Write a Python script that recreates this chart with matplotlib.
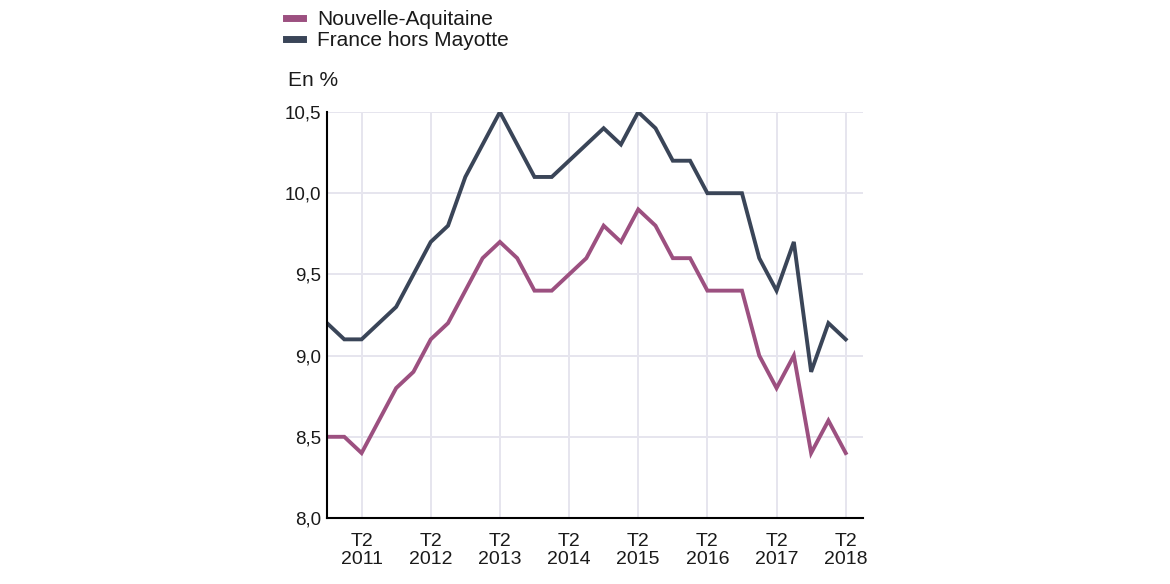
import numpy as np
import matplotlib.pyplot as plt

plt.rcParams['font.family'] = ['Liberation Sans', 'DejaVu Sans']

# Quarterly unemployment rate, T4 2010 -> T2 2018
quarters = ['T4 2010',
            'T1 2011', 'T2 2011', 'T3 2011', 'T4 2011',
            'T1 2012', 'T2 2012', 'T3 2012', 'T4 2012',
            'T1 2013', 'T2 2013', 'T3 2013', 'T4 2013',
            'T1 2014', 'T2 2014', 'T3 2014', 'T4 2014',
            'T1 2015', 'T2 2015', 'T3 2015', 'T4 2015',
            'T1 2016', 'T2 2016', 'T3 2016', 'T4 2016',
            'T1 2017', 'T2 2017', 'T3 2017', 'T4 2017',
            'T1 2018', 'T2 2018']
nouvelle_aquitaine = [8.5,
                      8.5, 8.4, 8.6, 8.8,
                      8.9, 9.1, 9.2, 9.4,
                      9.6, 9.7, 9.6, 9.4,
                      9.4, 9.5, 9.6, 9.8,
                      9.7, 9.9, 9.8, 9.6,
                      9.6, 9.4, 9.4, 9.4,
                      9.0, 8.8, 9.0, 8.4,
                      8.6, 8.4]
france = [9.2,
          9.1, 9.1, 9.2, 9.3,
          9.5, 9.7, 9.8, 10.1,
          10.3, 10.5, 10.3, 10.1,
          10.1, 10.2, 10.3, 10.4,
          10.3, 10.5, 10.4, 10.2,
          10.2, 10.0, 10.0, 10.0,
          9.6, 9.4, 9.7, 8.9,
          9.2, 9.1]
y_ticks = [8.0, 8.5, 9.0, 9.5, 10.0, 10.5]

x = np.arange(len(quarters))
tick_pos = [i for i, q in enumerate(quarters) if q.startswith('T2')]
tick_lab = [quarters[i].replace(' ', '\n') for i in tick_pos]

fig = plt.figure(figsize=(11.7, 5.84), dpi=100)
ax = fig.add_axes([327/1170, 1 - 518/584, (863 - 327)/1170, (518 - 112)/584])

c_na = '#9c5080'
c_fr = '#3a4558'
ax.plot(x, nouvelle_aquitaine, color=c_na, lw=2.8, label='Nouvelle-Aquitaine',
        solid_joinstyle='miter', zorder=3)
ax.plot(x, france, color=c_fr, lw=2.8, label='France hors Mayotte',
        solid_joinstyle='miter', zorder=3)

ax.set_xlim(0, len(quarters))
ax.set_ylim(8.0, 10.5)
ax.set_yticks(y_ticks)
ax.set_yticklabels([f'{v:.1f}'.replace('.', ',') for v in y_ticks], fontsize=13.5,
                   color='#1a1a1a')
ax.set_xticks(tick_pos)
ax.set_xticklabels(tick_lab, fontsize=14, linespacing=1.05, color='#1a1a1a')
ax.tick_params(axis='both', length=0)
ax.tick_params(axis='y', pad=4)
ax.tick_params(axis='x', pad=11)

ax.grid(True, color='#e6e5ee', lw=1.4, zorder=0)
ax.set_axisbelow(True)
for s in ['top', 'right']:
    ax.spines[s].set_visible(False)
ax.spines['left'].set_linewidth(1.5)
ax.spines['bottom'].set_linewidth(1.5)
ax.spines['left'].set_zorder(4)

fig.legend(loc='upper left', bbox_to_anchor=(286/1170, 1 - 10/584),
           frameon=False, fontsize=15, handlelength=0.8, handletextpad=0.7,
           labelspacing=0.1, borderpad=0, borderaxespad=0, labelcolor='#1a1a1a')
for h in fig.legends[0].get_lines():
    h.set_linewidth(5)
fig.text(288/1170, 1 - 80/584, 'En %', fontsize=15, va='center', ha='left',
         color='#1a1a1a')

fig.savefig('out.png', dpi=100, facecolor='white')
